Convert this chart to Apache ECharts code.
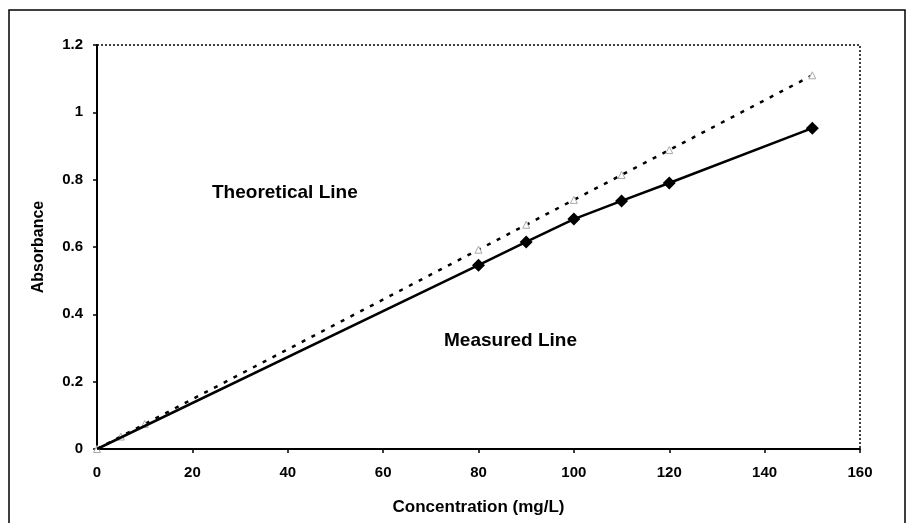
<!DOCTYPE html>
<html>
<head>
<meta charset="utf-8">
<script src="https://cdn.jsdelivr.net/npm/echarts@6/dist/echarts.min.js"></script>
<style>
  html, body { margin: 0; padding: 0; background: #fff; }
  #chart { width: 906px; height: 523px; }
</style>
</head>
<body>
<div id="chart"></div>
<script>
// Calibration data: absorbance vs. concentration
const theoreticalConc = [0, 5, 10, 80, 90, 100, 110, 120, 150];
const theoreticalAbs  = [0, 0.037, 0.074, 0.592, 0.666, 0.74, 0.814, 0.888, 1.11];

const measuredConc = [0, 80, 90, 100, 110, 120, 150];
const measuredAbs  = [0, 0.546, 0.615, 0.683, 0.737, 0.79, 0.953];

const xTicks = [0, 20, 40, 60, 80, 100, 120, 140, 160];
const yTicks = [0, 0.2, 0.4, 0.6, 0.8, 1, 1.2];

const FONT = 'Liberation Sans, Arial, sans-serif';

const chart = echarts.init(document.getElementById('chart'), null, { renderer: 'canvas' });

const theoData = theoreticalConc.map((c, i) => [c, theoreticalAbs[i]]);
const measData = measuredConc.map((c, i) => {
  const pt = { value: [c, measuredAbs[i]] };
  if (c === 0) pt.symbolSize = 0;
  return pt;
});

chart.setOption({
  animation: false,
  backgroundColor: '#fff',
  grid: {
    left: 97, top: 45, right: 46, bottom: 74,
    show: true, borderColor: '#000', borderWidth: 1.5, borderType: [2, 2]
  },
  xAxis: {
    type: 'value',
    min: xTicks[0], max: xTicks[xTicks.length - 1], interval: 20,
    name: 'Concentration (mg/L)',
    nameLocation: 'middle', nameGap: 50,
    nameTextStyle: { fontFamily: FONT, fontWeight: 'bold', fontSize: 17, color: '#000' },
    axisLine: { show: true, lineStyle: { color: '#000', width: 2 } },
    axisTick: { show: true, length: 4, lineStyle: { color: '#000', width: 1.5 } },
    axisLabel: { fontFamily: FONT, fontWeight: 'bold', fontSize: 15, color: '#000', margin: 16 },
    splitLine: { show: false }
  },
  yAxis: {
    type: 'value',
    min: yTicks[0], max: yTicks[yTicks.length - 1], interval: 0.2,
    name: 'Absorbance',
    nameLocation: 'middle', nameGap: 50, nameRotate: 90,
    nameTextStyle: { fontFamily: FONT, fontWeight: 'bold', fontSize: 16, color: '#000' },
    axisLine: { show: true, lineStyle: { color: '#000', width: 2 } },
    axisTick: { show: true, length: 4, lineStyle: { color: '#000', width: 1.5 } },
    axisLabel: { fontFamily: FONT, fontWeight: 'bold', fontSize: 15, color: '#000', margin: 14 },
    splitLine: { show: false }
  },
  series: [
    {
      name: 'Theoretical Line',
      type: 'line',
      data: theoData,
      symbol: 'triangle',
      symbolSize: 7,
      itemStyle: { color: '#fff', borderColor: '#aaa', borderWidth: 1 },
      lineStyle: { color: '#000', width: 2.5, type: [4, 7] },
      z: 2
    },
    {
      name: 'Measured Line',
      type: 'line',
      data: measData,
      symbol: 'diamond',
      symbolSize: 13,
      itemStyle: { color: '#000' },
      lineStyle: { color: '#000', width: 2.5 },
      z: 3
    }
  ],
  graphic: [
    {
      type: 'rect',
      shape: { x: 9, y: 10, width: 896, height: 540 },
      style: { fill: null, stroke: '#000', lineWidth: 1.5 },
      silent: true, z: 0
    },
    {
      type: 'text', left: 212, top: 183,
      style: { text: 'Theoretical Line', font: 'bold 19px ' + FONT, fill: '#000' }
    },
    {
      type: 'text', left: 444, top: 331,
      style: { text: 'Measured Line', font: 'bold 19px ' + FONT, fill: '#000' }
    }
  ]
});
</script>
</body>
</html>
